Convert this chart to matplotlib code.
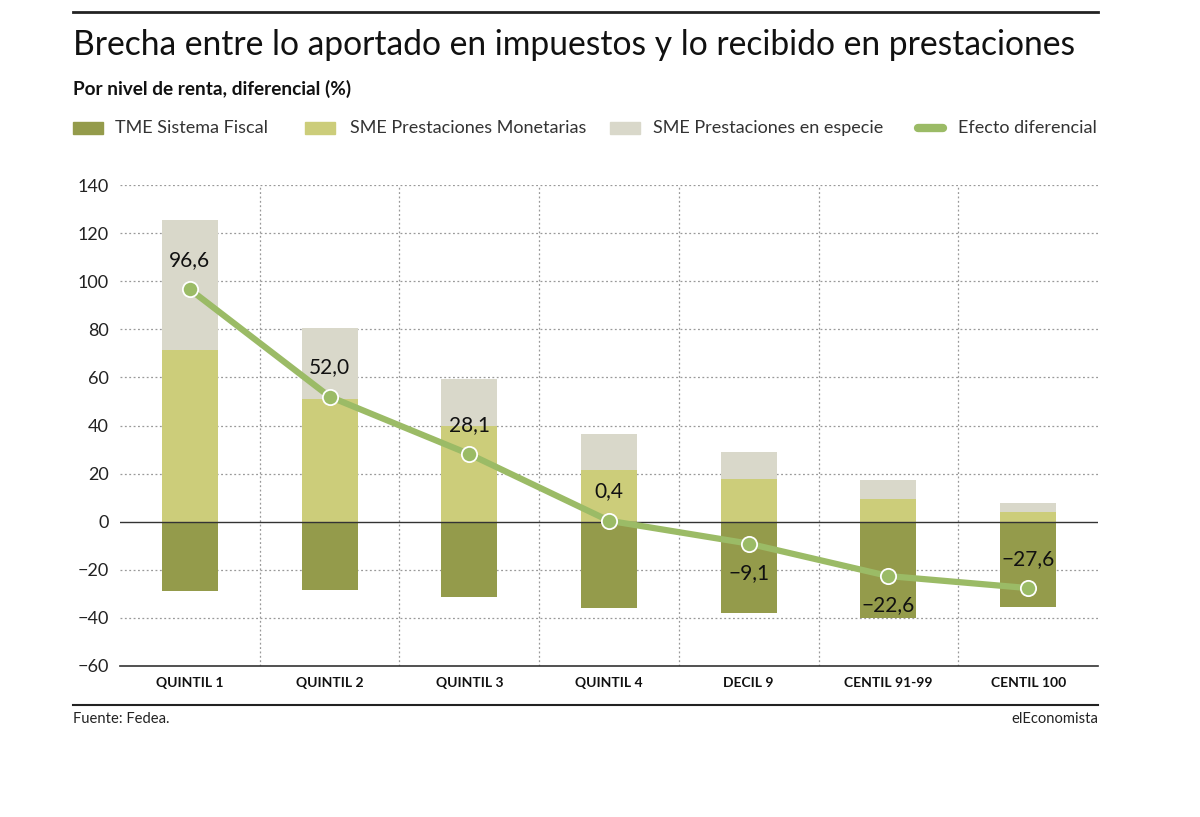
import matplotlib
matplotlib.use('Agg')
import matplotlib.pyplot as plt
from matplotlib import font_manager
from matplotlib.patches import Rectangle
from matplotlib.lines import Line2D
import numpy as np

# Datos
categorias = ['QUINTIL 1', 'QUINTIL 2', 'QUINTIL 3', 'QUINTIL 4',
              'DECIL 9', 'CENTIL 91-99', 'CENTIL 100']
tme_fiscal = [-28.9, -28.5, -31.3, -36.0, -38.0, -40.0, -35.3]
sme_monetarias = [71.5, 51.2, 39.6, 21.6, 17.7, 9.4, 3.9]
sme_especie = [54.0, 29.3, 19.8, 14.8, 11.2, 8.0, 3.8]
efecto = [96.6, 52.0, 28.1, 0.4, -9.1, -22.6, -27.6]
etiquetas = ['96,6', '52,0', '28,1', '0,4', '\u22129,1', '\u221222,6', '\u221227,6']
posicion_etiqueta = ['up', 'up', 'up', 'up', 'down', 'down', 'up']


def hay_fuente(nombre):
    try:
        font_manager.findfont(nombre, fallback_to_default=False)
        return True
    except Exception:
        return False


fuente = 'Lato' if hay_fuente('Lato') else 'DejaVu Sans'
plt.rcParams['font.family'] = [fuente, 'DejaVu Sans']

c_fiscal = '#949b4b'
c_monet = '#cccd7a'
c_especie = '#d9d8ca'
c_linea = '#9bbb66'

fig = plt.figure(figsize=(12, 8.17), dpi=100)
ax = fig.add_axes([0.1, 1 - 666 / 817, 0.915 - 0.1, (666 - 185) / 817])

x = np.arange(len(categorias))
ancho = 0.4
ax.bar(x, tme_fiscal, ancho, color=c_fiscal, zorder=2)
ax.bar(x, sme_monetarias, ancho, color=c_monet, zorder=2)
ax.bar(x, sme_especie, ancho, bottom=sme_monetarias, color=c_especie, zorder=2)

ax.plot(x, efecto, color=c_linea, linewidth=4.5, zorder=3, solid_capstyle='round')
ax.plot(x, efecto, 'o', markersize=11, markerfacecolor=c_linea,
        markeredgecolor='white', markeredgewidth=1.3, zorder=4)

for xi, v, t, p in zip(x, efecto, etiquetas, posicion_etiqueta):
    dy = 21 if p == 'up' else -21
    ax.annotate(t, (xi, v), xytext=(0, dy), textcoords='offset points',
                ha='center', va='center', fontsize=15, color='#111111', zorder=5)

ax.set_xlim(-0.5, len(categorias) - 0.5)
ax.set_ylim(-60, 140)
ax.set_yticks(np.arange(-60, 141, 20))
ax.set_yticklabels([str(v).replace('-', '\u2212') for v in range(-60, 141, 20)])
ax.set_xticks(x)
ax.set_xticklabels(categorias, fontweight='bold', fontsize=10)
ax.tick_params(axis='y', length=0, labelsize=13, pad=8, colors='#222222')
ax.tick_params(axis='x', length=0, pad=8, colors='#111111')

# Cuadrícula punteada
for yv in range(-40, 141, 20):
    if yv != 0:
        ax.axhline(yv, color='#999999', linestyle=(0, (1.5, 2)), linewidth=0.9, zorder=1)
for xv in np.arange(0.5, len(categorias) - 0.5, 1):
    ax.axvline(xv, color='#999999', linestyle=(0, (1.5, 2)), linewidth=0.9, zorder=1)
ax.axhline(0, color='#333333', linewidth=1.0, zorder=2.5)

for s in ['left', 'right', 'top']:
    ax.spines[s].set_visible(False)
ax.spines['bottom'].set_color('#333333')
ax.spines['bottom'].set_linewidth(1.2)

# Cabecera
fig.add_artist(Line2D([73 / 1200, 1098 / 1200], [1 - 12 / 817] * 2, color='#222222', linewidth=2))
fig.text(73 / 1200, 1 - 45 / 817, 'Brecha entre lo aportado en impuestos y lo recibido en prestaciones',
         fontsize=24.2, va='center', ha='left', color='#111111')
fig.text(73 / 1200, 1 - 89 / 817, 'Por nivel de renta, diferencial (%)',
         fontsize=13.7, fontweight='bold', va='center', ha='left', color='#111111')

# Leyenda
ley_y = 1 - 128 / 817
entradas = [(73, 115, c_fiscal, 'TME Sistema Fiscal', 'rect'),
            (305, 350, c_monet, 'SME Prestaciones Monetarias', 'rect'),
            (610, 653, c_especie, 'SME Prestaciones en especie', 'rect'),
            (915, 958, c_linea, 'Efecto diferencial', 'line')]
for xp, xt, col, txt, tipo in entradas:
    if tipo == 'rect':
        fig.add_artist(Rectangle((xp / 1200, ley_y - 6 / 817), 30 / 1200, 12 / 817,
                                 transform=fig.transFigure, color=col))
    else:
        fig.add_artist(Line2D([(xp + 3) / 1200, (xp + 28) / 1200], [ley_y, ley_y],
                              color=col, linewidth=6, solid_capstyle='round'))
    fig.text(xt / 1200, ley_y, txt, fontsize=13, va='center',
             ha='left', color='#333333')

# Pie
fig.add_artist(Line2D([73 / 1200, 1098 / 1200], [1 - 705 / 817] * 2, color='#222222', linewidth=1.5))
fig.text(73 / 1200, 1 - 719 / 817, 'Fuente: Fedea.', fontsize=10.6,
         va='center', ha='left', color='#222222')
fig.text(1098 / 1200, 1 - 719 / 817, 'elEconomista', fontsize=10.6,
         va='center', ha='right', color='#222222')

fig.savefig('out.png', dpi=100)
